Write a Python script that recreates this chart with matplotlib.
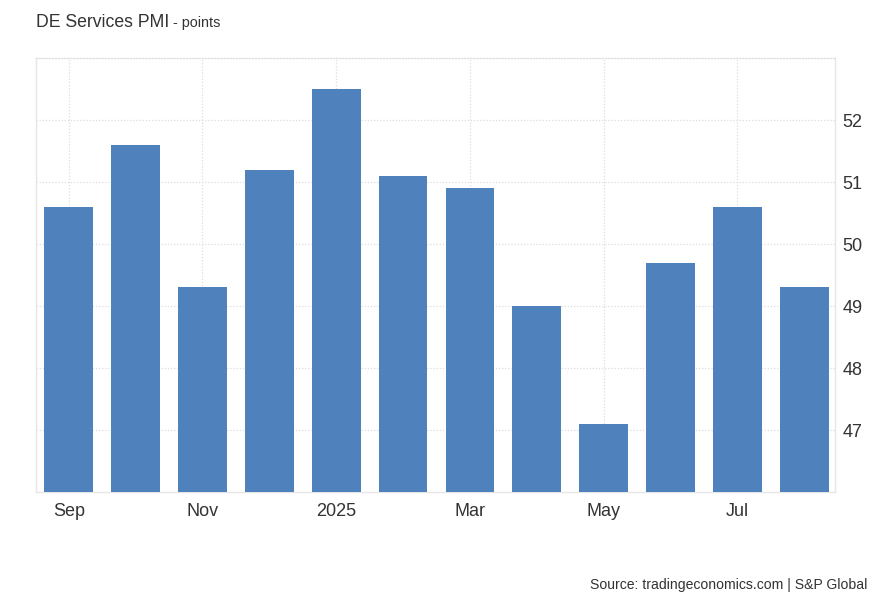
import matplotlib.pyplot as plt

months = ["Sep", "Oct", "Nov", "Dec", "Jan", "Feb", "Mar", "Apr", "May", "Jun", "Jul", "Aug"]
pmi = [50.6, 51.6, 49.3, 51.2, 52.5, 51.1, 50.9, 49.0, 47.1, 49.7, 50.6, 49.3]
tick_pos = [0, 2, 4, 6, 8, 10]
tick_labels = ["Sep", "Nov", "2025", "Mar", "May", "Jul"]
y_ticks = [47, 48, 49, 50, 51, 52]

plt.rcParams["font.family"] = ["Liberation Sans", "DejaVu Sans"]

fig = plt.figure(figsize=(8.82, 6.03), dpi=100)
ax = fig.add_axes([0.0408, 0.184, 0.9059, 0.7198])

x = list(range(len(months)))
ax.bar(x, [v - 46 for v in pmi], bottom=46, width=0.73, color="#4f81bd", zorder=3)

ax.set_xlim(-0.49, 11.46)
ax.set_ylim(46, 53)
ax.set_xticks(tick_pos)
ax.set_xticklabels(tick_labels, fontsize=13, color="#333333")
ax.set_yticks(y_ticks)
ax.set_yticklabels([str(v) for v in y_ticks], fontsize=13, color="#333333")
ax.yaxis.tick_right()
ax.tick_params(axis="both", length=0)
ax.tick_params(axis="y", pad=5.5)
ax.tick_params(axis="x", pad=8)

ax.grid(True, color="#dddddd", linestyle=(0, (1, 1.5)), linewidth=0.9, zorder=0)
for s in ["left", "right", "bottom"]:
    ax.spines[s].set_color("#e6e6e6")
    ax.spines[s].set_linewidth(1)
ax.spines["top"].set_color("#dddddd")
ax.spines["top"].set_linestyle((0, (1, 1.5)))
ax.spines["top"].set_linewidth(0.9)

fig.text(0.0408, 0.955, "DE Services PMI", fontsize=12.7, color="#333333", va="baseline")
fig.text(0.196, 0.955, "- points", fontsize=10.4, color="#333333", va="baseline")
fig.text(0.983, 0.024, "Source: tradingeconomics.com | S&P Global", fontsize=10.1,
         color="#333333", ha="right", va="baseline")

fig.savefig("out.png", dpi=100)
